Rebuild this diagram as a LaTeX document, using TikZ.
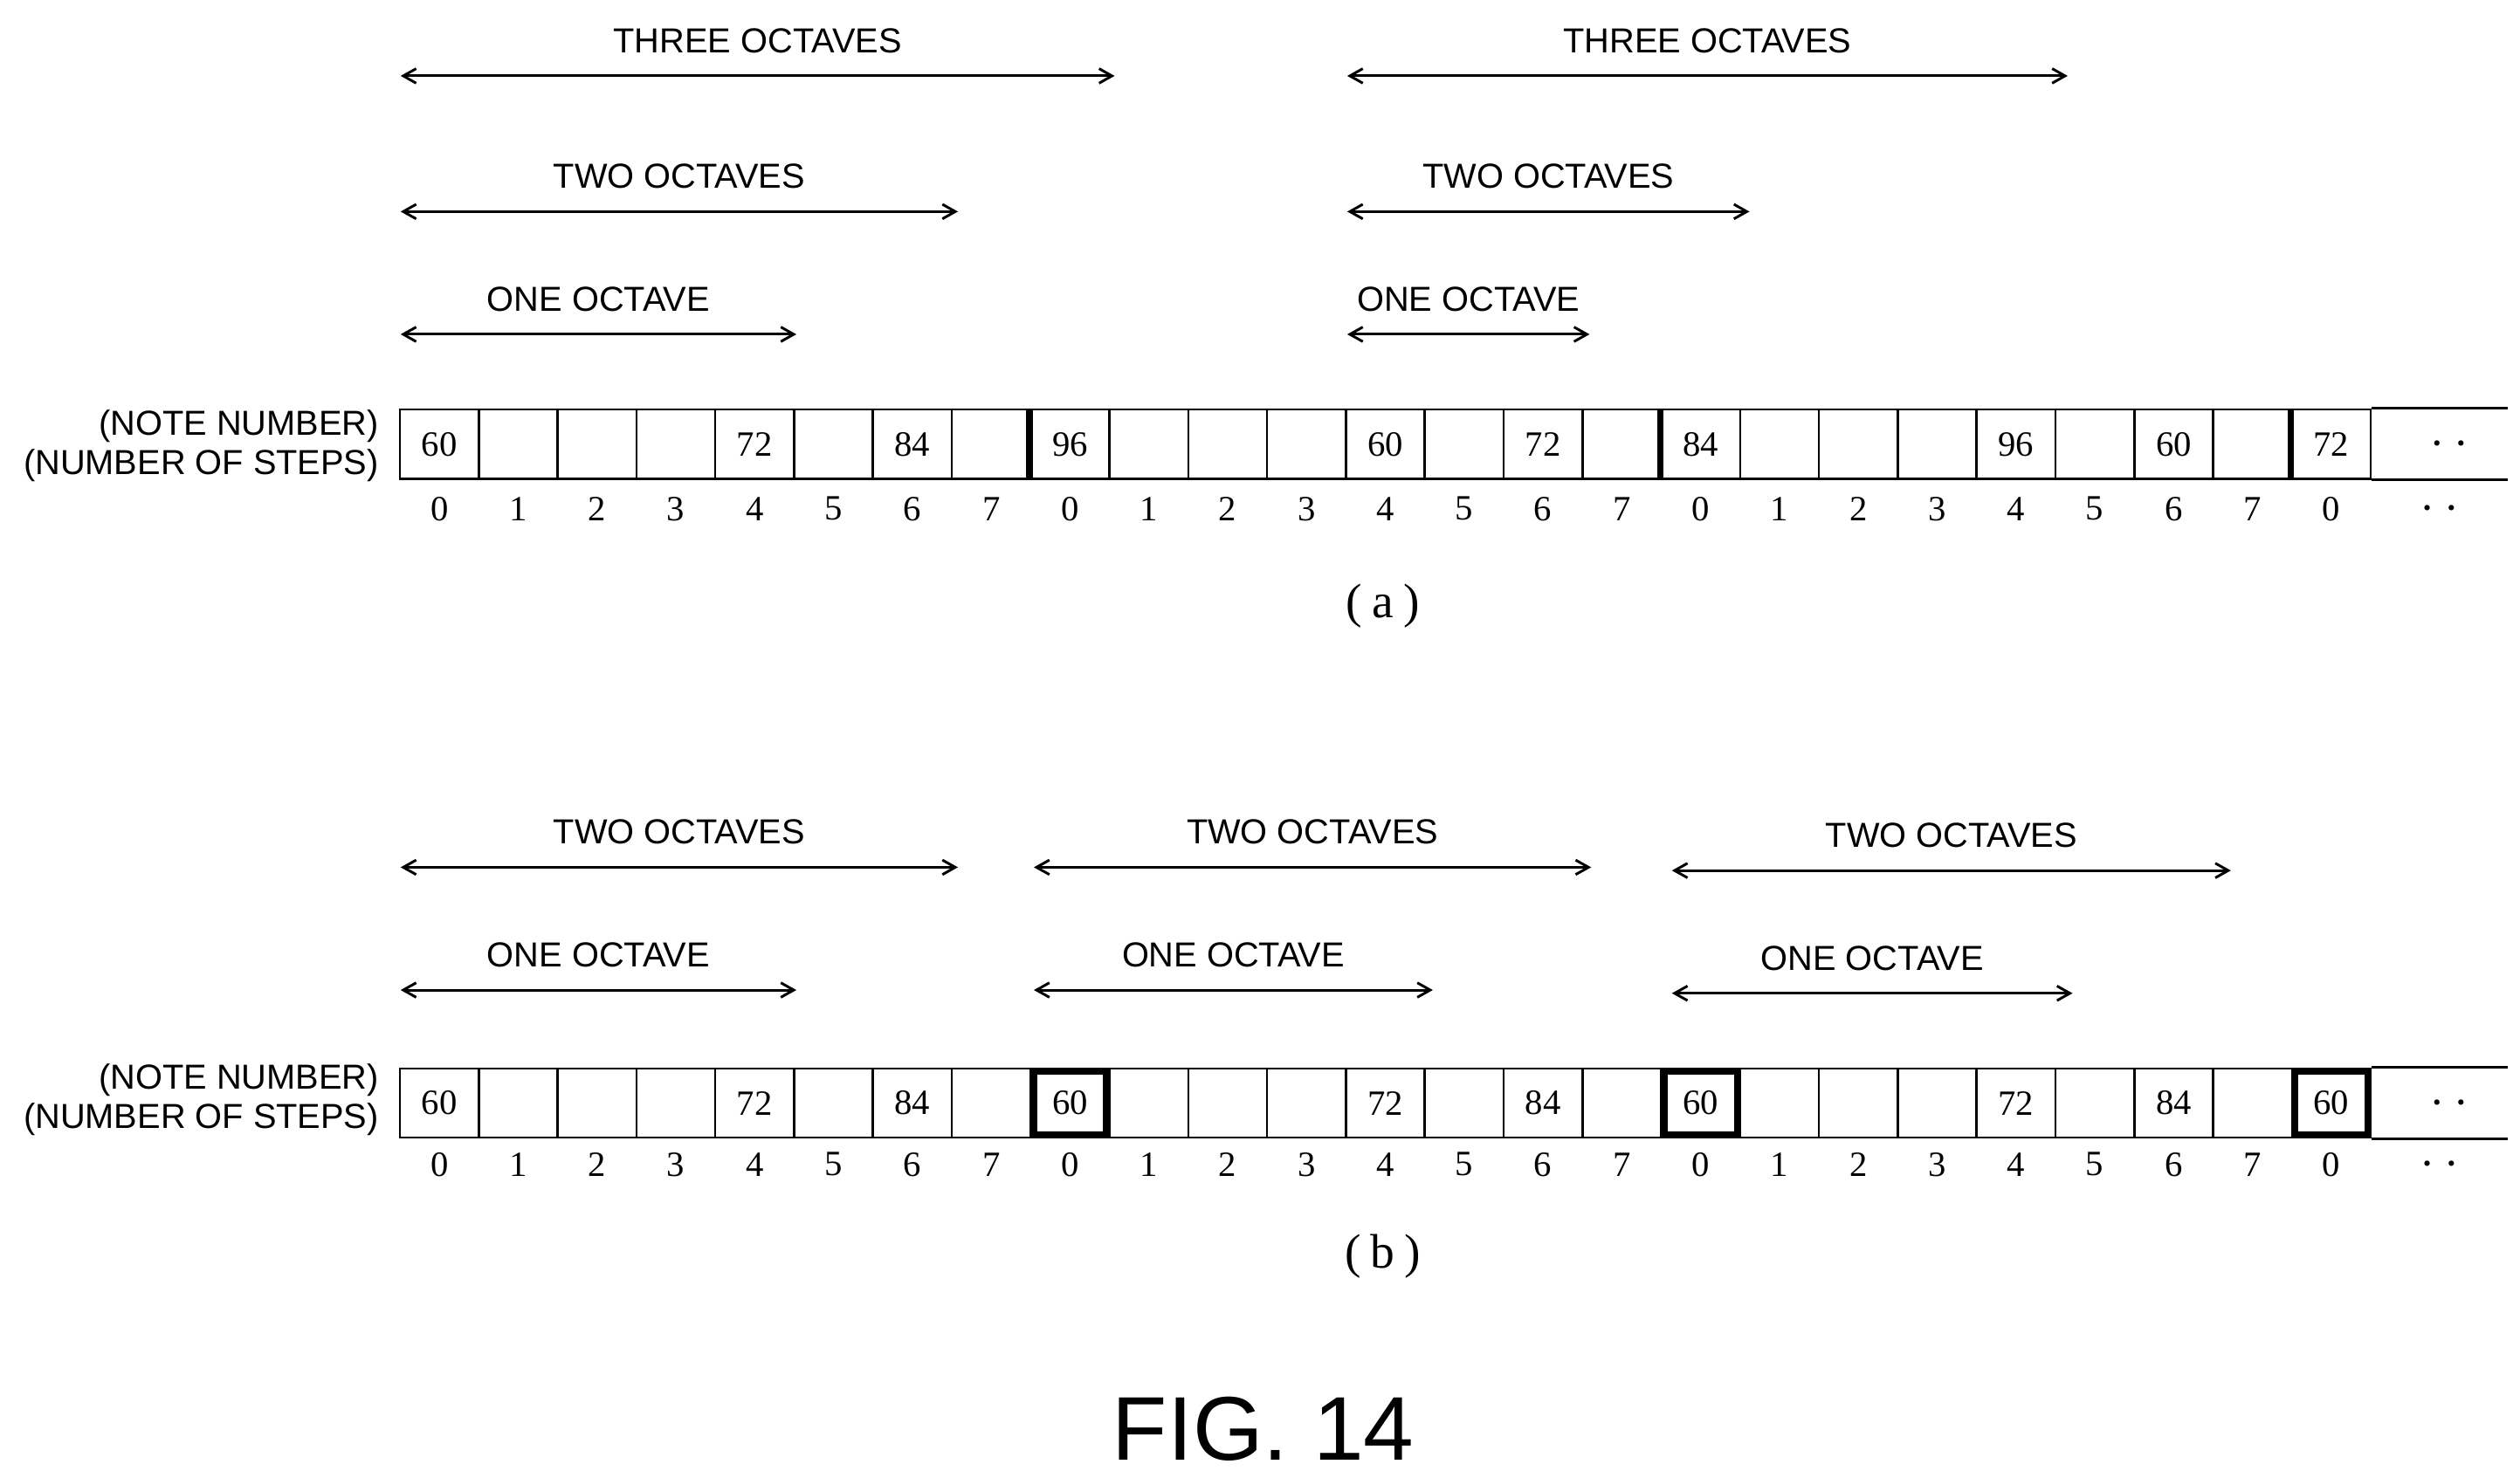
\documentclass[tikz,border=0pt]{standalone}
\usepackage{fontspec}
\setmainfont{Liberation Serif}
\setsansfont{Liberation Sans}
\usetikzlibrary{positioning, arrows.meta, calc}

\begin{document}
\begin{tikzpicture}[
    x=1pt, y=-1pt,
    >={Straight Barb[length=8pt, width=9pt]},
    % Styles
    cell/.style={ % one step of the row
        rectangle,
        draw,
        line width=1.2pt,
        minimum width=49pt,
        minimum height=43pt,
        inner sep=0pt,
        font=\fontsize{22}{24}\selectfont
    },
    boldcell/.style={ % bold cell
        cell,
        line width=4pt,
        minimum width=45pt,
        minimum height=39pt
    },
    stepnum/.style={ % step number
        font=\fontsize{22}{24}\selectfont
    },
    contdots/.style={ % continuation dots
        font=\fontsize{14}{16}\selectfont
    },
    span/.style={ % octave range
        <->,
        line width=1.6pt
    },
    lbl/.style={ % octave label
        font=\sffamily\fontsize{21.5}{24}\selectfont,
        anchor=south
    },
    side/.style={
        font=\sffamily\fontsize{21.5}{24}\selectfont,
        anchor=east,
        align=right
    },
    subcap/.style={
        font=\fontsize{30}{32}\selectfont
    }
]
    \useasboundingbox (0,0) rectangle (1560,914.6);

    % Row (a)
    \foreach \i in {0,...,24} {
        \node[cell] (a\i) at ({272+48.8*\i},275) {};
        \node[stepnum] (sa\i) at ({272+48.8*\i},315) {\pgfmathtruncatemacro\k{mod(\i,8)}\k};
    }
    \foreach \i/\v in {0/60,4/72,6/84,8/96,12/60,14/72,16/84,20/96,22/60,24/72}
        \node[cell, draw=none] at (a\i) {\v};
    \foreach \i in {8,16,24}
        \draw[line width=4pt] (a\i.north west) -- (a\i.south west);
    \draw[line width=1.6pt] (a24.north east) -- ++(84,0) (a24.south east) -- ++(84,0);
    \node[contdots] (da) at (1516,276) {\textbullet\hspace{10pt}\textbullet};
    \node[contdots] (dsa) at (1510,316) {\textbullet\hspace{10pt}\textbullet};
    \node[side] (na) at (238,276) {(NOTE NUMBER)\\(NUMBER OF STEPS)};
    \node[subcap] (capa) at (856,375) {(\hspace{6pt}a\hspace{6pt})};

    % Octave ranges (a)
    \foreach \n/\xa/\xb/\y/\t in {
        a1/248/690/47/THREE OCTAVES, a2/248/593/131/TWO OCTAVES, a3/248/493/207/ONE OCTAVE,
        a4/834/1280/47/THREE OCTAVES, a5/834/1083/131/TWO OCTAVES, a6/834/984/207/ONE OCTAVE} {
        \coordinate (\n l) at (\xa,\y);
        \coordinate (\n r) at (\xb,\y);
        \draw[span] (\n l) -- (\n r) node[lbl, midway, yshift=10pt] {\t};
    }

    % Row (b)
    \foreach \i in {0,...,24} {
        \node[cell] (b\i) at ({272+48.8*\i},683) {};
        \node[stepnum] (sb\i) at ({272+48.8*\i},721) {\pgfmathtruncatemacro\k{mod(\i,8)}\k};
    }
    \foreach \i in {8,16,24}
        \node[boldcell] at (b\i) {};
    \foreach \i/\v in {0/60,4/72,6/84,8/60,12/72,14/84,16/60,20/72,22/84,24/60}
        \node[cell, draw=none] at (b\i) {\v};
    \draw[line width=1.6pt] (b24.north east) -- ++(84,0) (b24.south east) -- ++(84,0);
    \node[contdots] (db) at (1516,684) {\textbullet\hspace{10pt}\textbullet};
    \node[contdots] (dsb) at (1510,722) {\textbullet\hspace{10pt}\textbullet};
    \node[side] (nb) at (238,681) {(NOTE NUMBER)\\(NUMBER OF STEPS)};
    \node[subcap] (capb) at (856,778) {(\hspace{6pt}b\hspace{6pt})};

    % Octave ranges (b)
    \foreach \n/\xa/\xb/\y/\t in {
        b1/248/593/537/TWO OCTAVES, b2/248/493/613/ONE OCTAVE,
        b3/640/985/537/TWO OCTAVES, b4/640/887/613/ONE OCTAVE,
        b5/1035/1381/539/TWO OCTAVES, b6/1035/1283/615/ONE OCTAVE} {
        \coordinate (\n l) at (\xa,\y);
        \coordinate (\n r) at (\xb,\y);
        \draw[span] (\n l) -- (\n r) node[lbl, midway, yshift=10pt] {\t};
    }

    \node[font=\sffamily\fontsize{56}{60}\selectfont] (fig) at (782,885) {FIG. 14};
\end{tikzpicture}
\end{document}
